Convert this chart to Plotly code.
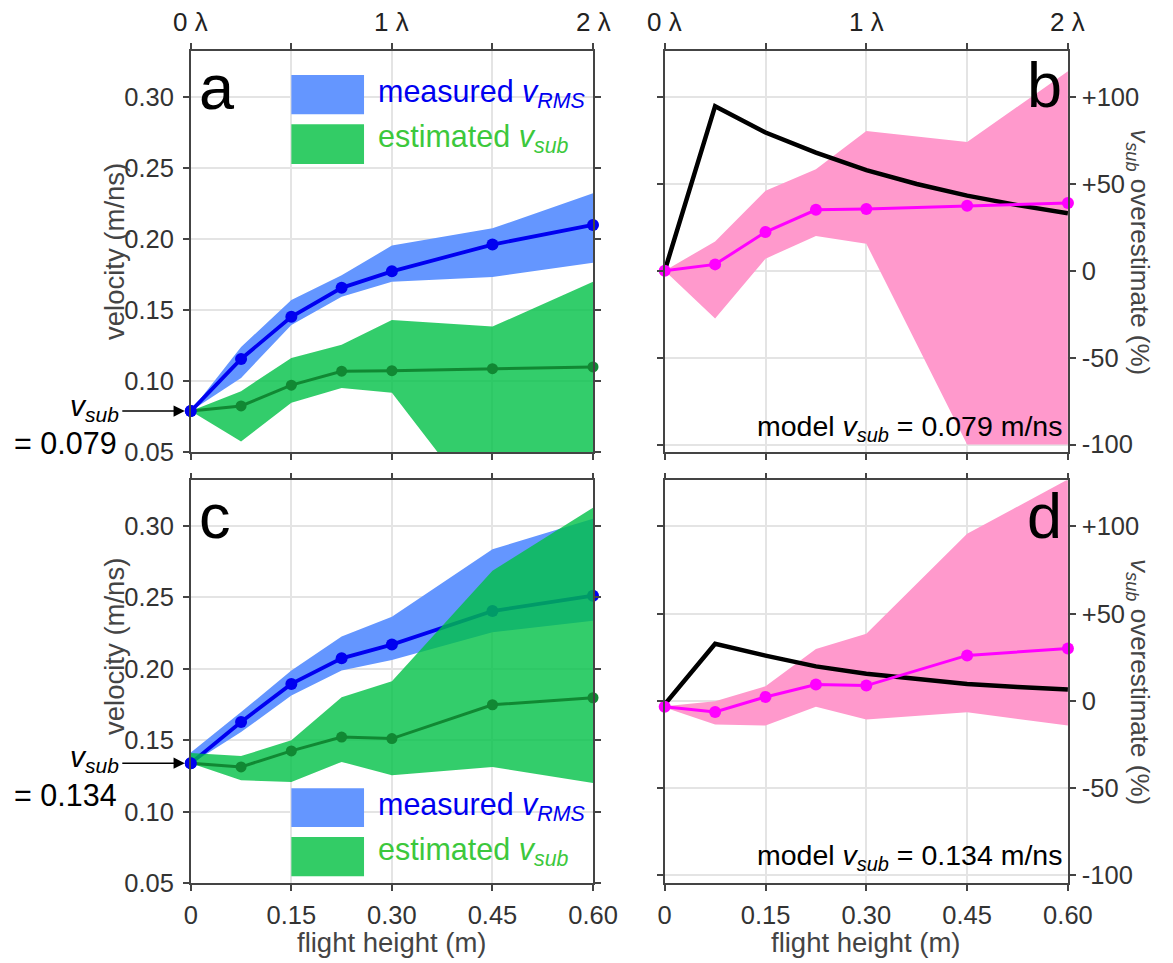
import plotly.graph_objects as go

# ---------------- data ----------------
heights = [0, 0.075, 0.15, 0.225, 0.30, 0.45, 0.60]
model_heights = [0, 0.075, 0.15, 0.225, 0.30, 0.375, 0.45, 0.525, 0.60]

x_tick_vals = [0, 0.15, 0.30, 0.45, 0.60]
x_tick_text = ["0", "0.15", "0.30", "0.45", "0.60"]
lam_vals = [0, 0.30, 0.60]
lam_text = ["0 λ", "1 λ", "2 λ"]
v_tick_vals = [0.05, 0.10, 0.15, 0.20, 0.25, 0.30]
v_tick_text = ["0.05", "0.10", "0.15", "0.20", "0.25", "0.30"]
p_tick_vals = [-100, -50, 0, 50, 100]
p_tick_text = ["-100", "-50", "0", "+50", "+100"]

# panel a (model v_sub = 0.079)
a_rms = [0.079, 0.1156, 0.1453, 0.1656, 0.1772, 0.1960, 0.2098]
a_rms_hi = [0.079, 0.1240, 0.1570, 0.1744, 0.1953, 0.2074, 0.2320]
a_rms_lo = [0.079, 0.1023, 0.1395, 0.1593, 0.1698, 0.1733, 0.1833]
a_sub = [0.079, 0.0826, 0.0972, 0.1070, 0.1074, 0.1088, 0.1100]
a_sub_hi = [0.079, 0.0930, 0.1163, 0.1256, 0.1430, 0.1384, 0.1698]
a_sub_lo = [0.079, 0.0577, 0.0849, 0.0953, 0.0919, 0.0000, 0.0000]

# panel b
b_over = [0, 3.7, 22.3, 35.1, 35.6, 37.5, 39.1]
b_over_hi = [0, 16.9, 46.1, 58.5, 80.5, 74.2, 114.9]
b_over_lo = [0, -27.4, 7.0, 20.0, 15.6, -100, -100]
b_model = [0, 94.8, 79.6, 68.1, 58.0, 50.0, 43.3, 37.8, 33.1]

# panel c (model v_sub = 0.134)
c_rms = [0.134, 0.1628, 0.1895, 0.2074, 0.2170, 0.2405, 0.2512]
c_rms_hi = [0.1415, 0.1698, 0.1988, 0.2226, 0.2365, 0.2837, 0.3050]
c_rms_lo = [0.1335, 0.1558, 0.1814, 0.1988, 0.2063, 0.2256, 0.2337]
c_sub = [0.134, 0.1314, 0.1426, 0.1523, 0.1512, 0.1749, 0.1798]
c_sub_hi = [0.1412, 0.1390, 0.1500, 0.1802, 0.1914, 0.2686, 0.3128]
c_sub_lo = [0.1340, 0.1221, 0.1209, 0.1349, 0.1256, 0.1314, 0.1202]

# panel d
d_over = [-3.4, -6.3, 2.3, 9.4, 8.8, 26.1, 30.0]
d_over_hi = [-3.0, -0.2, 8.4, 29.8, 38.5, 95.8, 127.0]
d_over_lo = [-3.8, -13.5, -14.1, -3.4, -10.7, -6.5, -14.1]
d_model = [-2.0, 32.8, 26.0, 19.8, 15.6, 12.6, 9.7, 8.0, 6.5]

v_sub_a = "0.079"
v_sub_c = "0.134"

# ---------------- style ----------------
W, H = 1173, 963
FONT = "Liberation Sans, Arial, sans-serif"
AX = "#444444"
GRID = "#e4e4e4"
TXT = "#333333"
BLUE_FILL = "rgb(100,150,255)"
BLUE_LINE = "#0000f0"
GREEN_FILL = "rgba(0,192,70,0.8)"
GREEN_LEG = "rgb(51,204,102)"
GREEN_LINE = "#118833"
PINK_FILL = "rgb(255,153,204)"
MAGENTA = "#ff00ff"


def px(x):
    # layout position (target pixel -> paper fraction, calibrated)
    return min((x - 6.4) / 0.977, W) / W


def py(y):
    return 1 - ((y - 1.5) / 0.988) / H


dom_left = [px(191), px(595)]
dom_right = [px(667), px(1072)]
dom_top = [py(455), py(52.7)]
dom_bot = [py(887), py(483)]

fig = go.Figure()


def band(xs, hi, lo, color, xa, ya):
    fig.add_trace(go.Scatter(
        x=list(xs) + list(xs)[::-1], y=list(hi) + list(lo)[::-1],
        fill="toself", fillcolor=color, line=dict(width=0), mode="lines",
        xaxis=xa, yaxis=ya, hoverinfo="skip", showlegend=False))


def line(xs, ys, color, width, msize, xa, ya, markers=True):
    fig.add_trace(go.Scatter(
        x=xs, y=ys, mode="lines+markers" if markers else "lines",
        line=dict(color=color, width=width),
        marker=dict(color=color, size=msize),
        cliponaxis=False, xaxis=xa, yaxis=ya, showlegend=False))


# panel a
band(heights, a_rms_hi, a_rms_lo, BLUE_FILL, "x", "y")
line(heights, a_rms, BLUE_LINE, 3.8, 12, "x", "y")
band(heights, a_sub_hi, a_sub_lo, GREEN_FILL, "x", "y")
line(heights, a_sub, GREEN_LINE, 3, 11, "x", "y")
line(heights[:1], a_rms[:1], BLUE_LINE, 3.8, 12, "x", "y")

# panel b
band(heights, b_over_hi, b_over_lo, PINK_FILL, "x2", "y2")
line(model_heights, b_model, "black", 4.5, 0, "x2", "y2", markers=False)
line(heights, b_over, MAGENTA, 3, 12, "x2", "y2")

# panel c
band(heights, c_rms_hi, c_rms_lo, BLUE_FILL, "x3", "y3")
line(heights, c_rms, BLUE_LINE, 3.8, 12, "x3", "y3")
band(heights, c_sub_hi, c_sub_lo, GREEN_FILL, "x3", "y3")
line(heights, c_sub, GREEN_LINE, 3, 11, "x3", "y3")
line(heights[:1], c_rms[:1], BLUE_LINE, 3.8, 12, "x3", "y3")

# panel d
band(heights, d_over_hi, d_over_lo, PINK_FILL, "x4", "y4")
line(model_heights, d_model, "black", 4.5, 0, "x4", "y4", markers=False)
line(heights, d_over, MAGENTA, 3, 12, "x4", "y4")

tickfont = dict(family=FONT, size=25.5, color=TXT)


def xax(domain, anchor, labels):
    return dict(domain=domain, anchor=anchor, range=[0, 0.6],
                tickvals=x_tick_vals, ticktext=x_tick_text,
                showticklabels=labels, showgrid=True, gridcolor=GRID,
                gridwidth=1.5, showline=True, linecolor=AX, linewidth=1.5,
                mirror="ticks", ticks="outside", ticklen=6, tickwidth=1.5,
                tickcolor=AX, zeroline=False, tickfont=tickfont,
                ticklabelstandoff=2)


def yvel(domain, anchor):
    return dict(domain=domain, anchor=anchor, range=[0.05, 0.332],
                tickvals=v_tick_vals, ticktext=v_tick_text,
                showgrid=True, gridcolor=GRID, gridwidth=1.5,
                showline=True, linecolor=AX, linewidth=1.5, mirror="ticks",
                ticks="outside", ticklen=6, tickwidth=1.5, tickcolor=AX,
                zeroline=False, tickfont=tickfont, ticklabelstandoff=4)


def yper(domain, anchor):
    return dict(domain=domain, anchor=anchor, range=[-104.5, 126.5],
                side="right", tickvals=p_tick_vals, ticktext=p_tick_text,
                showgrid=True, gridcolor=GRID, gridwidth=1.5,
                showline=True, linecolor=AX, linewidth=1.5, mirror="ticks",
                ticks="outside", ticklen=6, tickwidth=1.5, tickcolor=AX,
                zeroline=False, tickfont=tickfont, ticklabelstandoff=1)


fig.update_layout(
    width=W, height=H, margin=dict(l=0, r=0, t=0, b=0),
    paper_bgcolor="white", plot_bgcolor="white", showlegend=False,
    font=dict(family=FONT),
    xaxis=xax(dom_left, "y", False), yaxis=yvel(dom_top, "x"),
    xaxis2=xax(dom_right, "y2", False), yaxis2=yper(dom_top, "x2"),
    xaxis3=xax(dom_left, "y3", True), yaxis3=yvel(dom_bot, "x3"),
    xaxis4=xax(dom_right, "y4", True), yaxis4=yper(dom_bot, "x4"),
)

ann = []


def text(x, y, s, size, color="black", xanchor="center", angle=0):
    ann.append(dict(x=px(x), y=py(y), xref="paper", yref="paper", text=s,
                    showarrow=False, xanchor=xanchor, yanchor="middle",
                    textangle=angle, font=dict(family=FONT, size=size, color=color)))


VSUB = "<i>v</i><sub><i>sub</i></sub>"

# wavelength labels on the top axes
for xr in ["x", "x2"]:
    for v, t in zip(lam_vals, lam_text):
        ann.append(dict(x=v, y=py(24), xref=xr, yref="paper", text=t,
                        showarrow=False, xanchor="center", yanchor="middle",
                        font=dict(family=FONT, size=26, color="#222222")))

# panel letters
text(197, 89, "a", 63, xanchor="left")
text(1068, 87, "b", 63, xanchor="right")
text(197, 519, "c", 63, xanchor="left")
text(1068, 519, "d", 63, xanchor="right")

# legends
for (yb, yg) in [(95, 140), (810, 855)]:
    text(377, yb, "measured <i>v</i><sub><i>RMS</i></sub>", 30.5, BLUE_LINE, "left")
    text(377, yg, "estimated " + VSUB, 30.5, "rgb(60,200,60)", "left")

shapes = []
for (b0, b1, g0, g1) in [(76.7, 116, 126, 166), (791.7, 830.7, 840.7, 880)]:
    shapes.append(dict(type="rect", xref="paper", yref="paper", x0=px(292), x1=px(365),
                       y0=py(b1), y1=py(b0), fillcolor=BLUE_FILL, line=dict(width=0)))
    shapes.append(dict(type="rect", xref="paper", yref="paper", x0=px(292), x1=px(365),
                       y0=py(g1), y1=py(g0), fillcolor=GREEN_LEG, line=dict(width=0)))

# v_sub arrows
for (xr, yr, val, vy) in [("x", "y", a_rms[0], 410), ("x3", "y3", c_rms[0], 762)]:
    ann.append(dict(x=heights[0], y=val, xref=xr, yref=yr, text="", showarrow=True,
                    ax=-70, ay=0, axref="pixel", ayref="pixel", arrowhead=2, arrowsize=1.4,
                    arrowwidth=1.6, arrowcolor="black", standoff=6))
    text(121, vy, VSUB, 30, "black", "right")
text(119, 446, "= " + v_sub_a, 30.5, "black", "right")
text(119, 799, "= " + v_sub_c, 30.5, "black", "right")

# model labels
text(1068, 431, "model " + VSUB + " = " + v_sub_a + " m/ns", 28.5, "black", "right")
text(1068, 861, "model " + VSUB + " = " + v_sub_c + " m/ns", 28.5, "black", "right")

# axis titles
text(115, 254, "velocity (m/ns)", 27.5, "#444444", angle=-90)
text(115, 650, "velocity (m/ns)", 27.5, "#444444", angle=-90)
text(1143, 254, VSUB + " overestimate (%)", 26, "#444444", angle=90)
text(1143, 685, VSUB + " overestimate (%)", 26, "#444444", angle=90)
text(393, 946, "flight height (m)", 27.5, "#444444")
text(869.5, 946, "flight height (m)", 27.5, "#444444")

fig.update_layout(annotations=ann, shapes=shapes)
fig.write_html("out.html",
               post_script="document.body.style.margin='0';"
                           "document.body.style.overflow='hidden';")
